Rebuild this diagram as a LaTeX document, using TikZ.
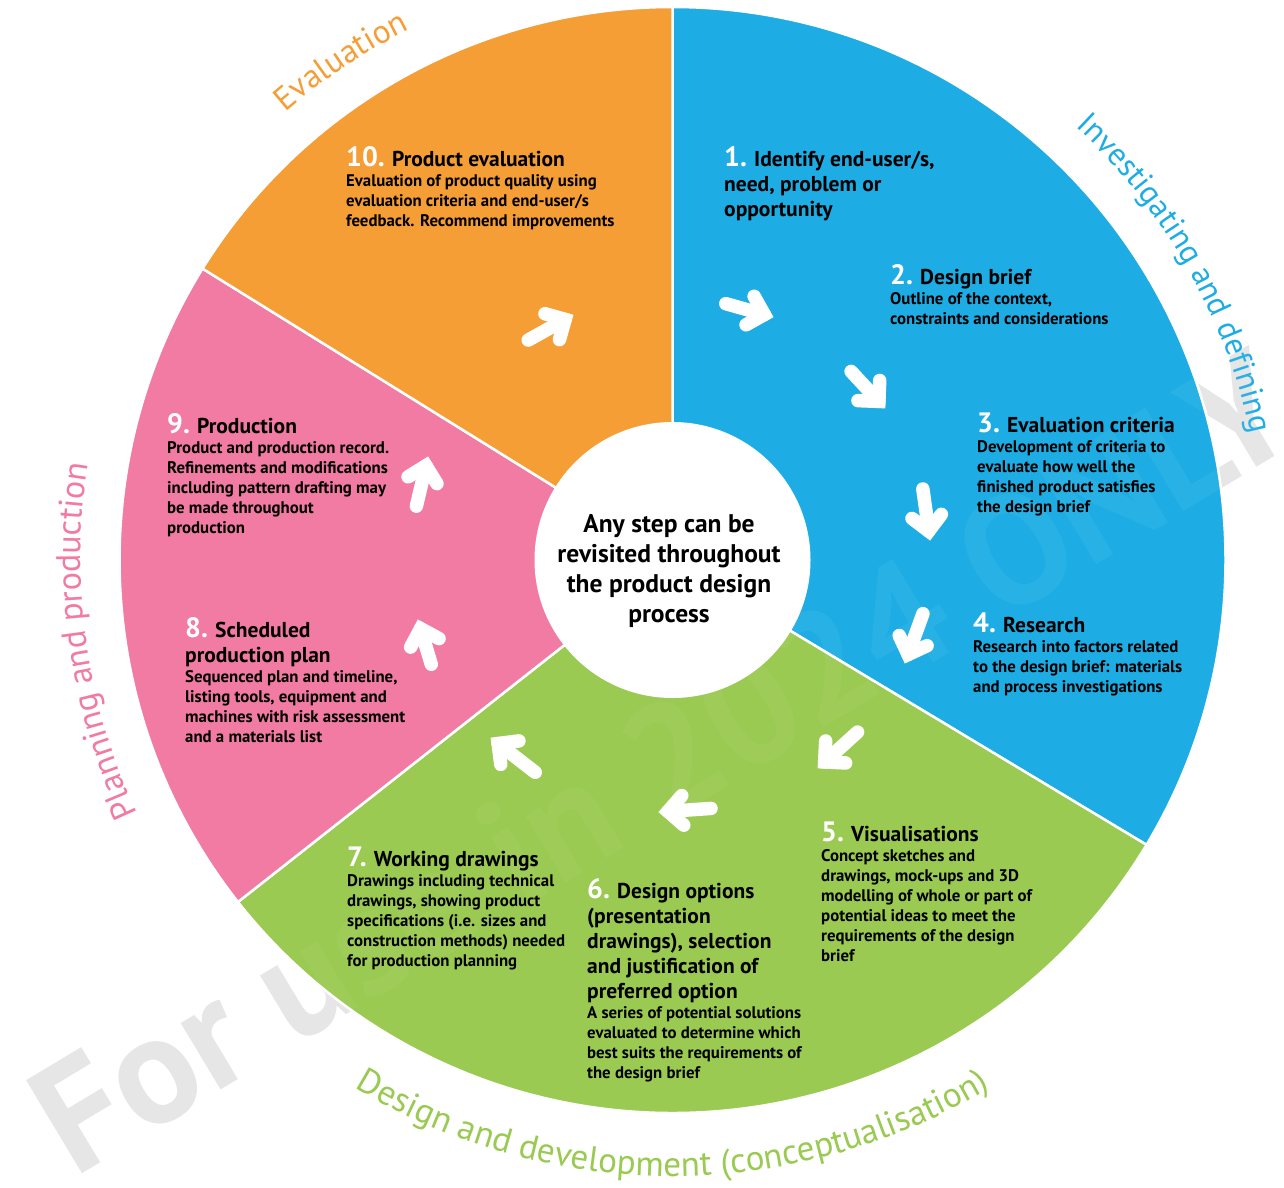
\documentclass[tikz,border=0pt]{standalone}
\usepackage{fontspec}
\setmainfont{PT Sans}
\usetikzlibrary{calc,decorations.text}
\definecolor{cblue}{HTML}{1DADE4}
\definecolor{corange}{HTML}{F69E36}
\definecolor{cpink}{HTML}{F17BA3}
\definecolor{cgreen}{HTML}{9ACA51}
\newcommand\ttl{\fontsize{21.5}{25}\selectfont\bfseries}
\newcommand\bdy{\fontsize{16.8}{20}\selectfont\bfseries}
\newcommand\num[1]{\textcolor{white}{\fontsize{28}{25}\selectfont #1}}
\newcommand\tblock[5]{\node[anchor=base west, inner sep=0pt] (#1) at (#2,#3) {\parbox[t]{400pt}{\raggedright\ttl #4\par\bdy #5\par}};}
\newcommand\warrow[3]{%
  \coordinate (#1t0) at (#2); \coordinate (#1h) at (#3);
  \coordinate (#1t) at ($(#1t0)!6pt!(#1h)$);
  \coordinate (#1v) at ($(#1h)!9pt!(#1t0)$);
  \draw[warr] (#1t) -- (#1v);
  \draw[warr, line join=miter] ($(#1v)!21pt!45:(#1t)$) -- (#1v) -- ($(#1v)!21pt!-45:(#1t)$);
}
\tikzset{
  sector/.style={draw=white, line width=2.5pt},
  warr/.style={white, line width=13.5pt, line cap=round},
  wmark/.style={rotate=31, font=\fontsize{155}{155}\selectfont\bfseries},
}
\begin{document}
\begin{tikzpicture}[x=1pt,y=-1pt]
\useasboundingbox (0,0) rectangle (1284,1187);
\fill[white] (0,0) rectangle (1284,1187);
% watermark (behind)
\node[wmark, text=black!10] (wm) at (662,762) {For use in 2024 ONLY};
\coordinate (C) at (672.5,560);
\begin{scope}[shift={(C)}]
  \filldraw[sector, fill=cblue] (0,0) -- (-90:553) arc[start angle=-90, end angle=31, radius=553] -- cycle;
  \filldraw[sector, fill=cgreen] (0,0) -- (31:553) arc[start angle=31, end angle=141.8, radius=553] -- cycle;
  \filldraw[sector, fill=cpink] (0,0) -- (141.8:553) arc[start angle=141.8, end angle=211.8, radius=553] -- cycle;
  \filldraw[sector, fill=corange] (0,0) -- (211.8:553) arc[start angle=211.8, end angle=270, radius=553] -- cycle;
  \fill[white] (0,0) circle[radius=138];
  % outer labels
  \path[decorate, decoration={text along path, text align=center, text color=corange,
     text={|\fontsize{33}{33}\selectfont|Evaluation}}]
     (-143.6:592) arc[start angle=-143.6, end angle=-103.6, radius=592];
  \path[decorate, decoration={text along path, text align=center, text color=cblue,
     text={|\fontsize{32}{32}\selectfont|Investigating and defining}}]
     (-60:592) arc[start angle=-60, end angle=0.6, radius=592];
  \path[decorate, decoration={text along path, text align=center, text color=cpink,
     text={|\fontsize{34}{34}\selectfont|Planning and production}}]
     (142:592) arc[start angle=142, end angle=202, radius=592];
  \path[decorate, decoration={text along path, text align=center, text color=cgreen,
     text={|\fontsize{35}{35}\selectfont|Design and development (conceptualisation)}}]
     (140:616) arc[start angle=140, end angle=40, radius=616];
\end{scope}
% faint watermark over the colours
\node[wmark, text=white, text opacity=0.05] (wm2) at (wm) {For use in 2024 ONLY};
% arrows
\warrow{a1}{720,302}{773,317}
\warrow{a2}{847,367}{885,408}
\warrow{a3}{922,483}{930,540}
\warrow{a4}{925,608}{905,663}
\warrow{a5}{862,728}{818,768}
\warrow{a6}{717,808}{659,812}
\warrow{a7}{540,776}{491,738}
\warrow{a8}{433,670}{418,620}
\warrow{a9}{415,512}{428,457}
\warrow{a10}{523,343}{573,315}
% text blocks
\tblock{s1}{724}{166}{\num{1.} Identify end-user/s,\\need, problem or\\opportunity}{}
\tblock{s2}{890}{284}{\num{2.} Design brief}{Outline of the context,\\constraints and considerations}
\tblock{s3}{977}{432}{\num{3.} Evaluation criteria}{Development of criteria to\\evaluate how well the\\finished product satisfies\\the design brief}
\tblock{s4}{973}{632}{\num{4.} Research}{Research into factors related\\to the design brief: materials\\and process investigations}
\tblock{s5}{821}{841}{\num{5.} Visualisations}{Concept sketches and\\drawings, mock-ups and 3D\\modelling of whole or part of\\potential ideas to meet the\\requirements of the design\\brief}
\tblock{s6}{587}{898}{\num{6.} Design options\\(presentation\\drawings), selection\\and justification of\\preferred option}{A series of potential solutions\\evaluated to determine which\\best suits the requirements of\\the design brief}
\tblock{s7}{347}{866}{\num{7.} Working drawings}{Drawings including technical\\drawings, showing product\\specifications (i.e. sizes and\\construction methods) needed\\for production planning}
\tblock{s8}{185}{637}{\num{8.} Scheduled\\production plan}{Sequenced plan and timeline,\\listing tools, equipment and\\machines with risk assessment\\and a materials list}
\tblock{s9}{167}{433}{\num{9.} Production}{Product and production record.\\Refinements and modifications\\including pattern drafting may\\be made throughout\\production}
\tblock{s10}{346}{166}{\num{10.} Product evaluation}{Evaluation of product quality using\\evaluation criteria and end-user/s\\feedback. Recommend improvements}
% centre
\node[font=\fontsize{25.5}{30}\selectfont\bfseries, align=center] (ctr) at (669,571) {Any step can be\\revisited throughout\\the product design\\process};
\end{tikzpicture}
\end{document}
